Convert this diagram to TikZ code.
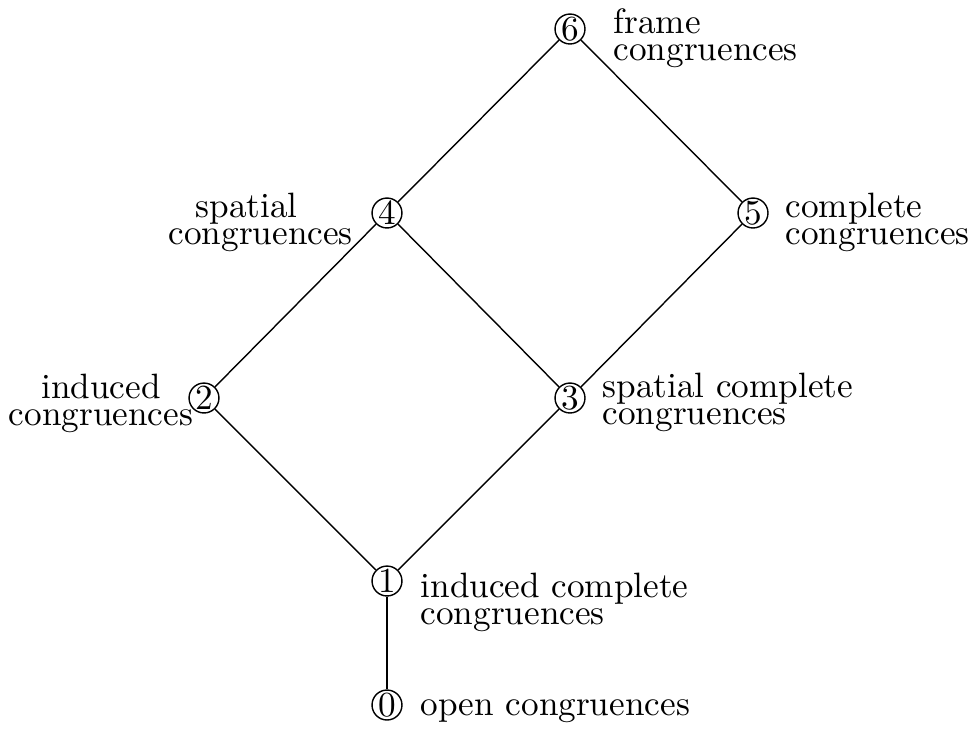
\documentclass[tikz,border=0pt]{standalone}
\begin{document}
\begin{tikzpicture}[x=0.28409pt,y=-0.28409pt,
  vtx/.style={circle,draw,line width=0.4pt,inner sep=0pt,minimum size=8.5pt,font=\fontsize{10}{12}\selectfont},
  lbl/.style={inner sep=0pt,font=\fontsize{10}{7.7}\selectfont,align=left},
  link/.style={line width=0.4pt}]
\useasboundingbox (0,0) rectangle (975,729);
\node[vtx] (n6) at (570,29) {6};
\node[vtx] (n4) at (387,213) {4};
\node[vtx] (n5) at (753,213) {5};
\node[vtx] (n2) at (204,398) {2};
\node[vtx] (n3) at (570,398) {3};
\node[vtx] (n1) at (387,581) {1};
\node[vtx] (n0) at (387,705) {0};
\draw[link] (n6) -- (n4);
\draw[link] (n6) -- (n5);
\draw[link] (n4) -- (n2);
\draw[link] (n4) -- (n3);
\draw[link] (n5) -- (n3);
\draw[link] (n2) -- (n1);
\draw[link] (n3) -- (n1);
\draw[link] (n1) -- (n0);
\node[lbl,anchor=north west] (l6) at (613,7.6) {frame\\congruences};
\node[lbl,anchor=north west] (l4) at (168,192.6) {\hspace*{7.67pt}spatial\\congruences};
\node[lbl,anchor=north west] (l5) at (785,192.6) {complete\\congruences};
\node[lbl,align=center,anchor=north] (l2) at (101,373.6) {induced\\congruences};
\node[lbl,anchor=north west] (l3) at (602,372.6) {spatial complete\\congruences};
\node[lbl,anchor=north west] (l1) at (420,572.6) {induced complete\\congruences};
\node[lbl,anchor=base west] (l0) at (420,715) {open congruences};
\end{tikzpicture}
\end{document}
